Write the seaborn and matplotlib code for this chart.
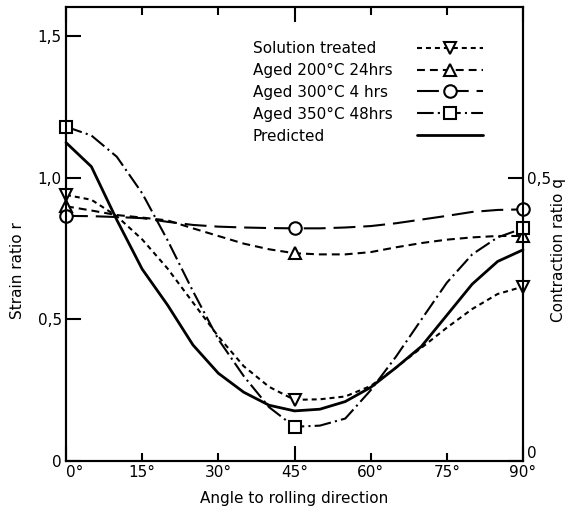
import pandas as pd
import seaborn as sns
import matplotlib.pyplot as plt

# values (strain ratio r), every 5 degrees
angles = [0, 5, 10, 15, 20, 25, 30, 35, 40, 45, 50, 55, 60, 65, 70, 75, 80, 85, 90]
solution_treated = [0.94, 0.923, 0.865, 0.783, 0.68, 0.56, 0.44, 0.335, 0.262, 0.216,
                    0.218, 0.228, 0.265, 0.33, 0.40, 0.471, 0.537, 0.59, 0.616]
aged_200 = [0.90, 0.885, 0.869, 0.86, 0.85, 0.822, 0.795, 0.768, 0.748, 0.734,
            0.73, 0.73, 0.738, 0.755, 0.77, 0.782, 0.79, 0.795, 0.795]
aged_300 = [0.866, 0.865, 0.862, 0.858, 0.845, 0.834, 0.828, 0.825, 0.823, 0.822,
            0.822, 0.825, 0.83, 0.84, 0.853, 0.866, 0.88, 0.887, 0.889]
aged_350 = [1.181, 1.15, 1.075, 0.946, 0.78, 0.60, 0.43, 0.30, 0.19, 0.121,
            0.125, 0.15, 0.25, 0.369, 0.50, 0.63, 0.73, 0.79, 0.822]
predicted = [1.125, 1.04, 0.852, 0.678, 0.551, 0.41, 0.31, 0.243, 0.197, 0.177,
             0.183, 0.21, 0.26, 0.33, 0.405, 0.515, 0.625, 0.705, 0.746]
measured_at = [0, 45, 90]

labels = ["Solution treated", "Aged 200°C 24hrs", "Aged 300°C 4 hrs",
          "Aged 350°C 48hrs", "Predicted"]
x_ticks = [0, 45, 90]
x_minor = [15, 30, 60, 75]
y_ticks = [0, 0.5, 1.0, 1.5]
y_labels = ["0", "0,5", "1,0", "1,5"]
q_ticks = [0, 0.5]
q_labels = ["0", "0,5"]

sns.set_theme(style="ticks", rc={"axes.edgecolor": "black", "text.color": "black",
                                 "xtick.color": "black", "ytick.color": "black",
                                 "axes.labelcolor": "black", "axes.linewidth": 1.5})
plt.rcParams['font.family'] = ['Liberation Sans Narrow', 'DejaVu Sans']
plt.rcParams['font.size'] = 11

fig = plt.figure(figsize=(5.66, 5.11), dpi=100)
ax = fig.add_axes([66 / 566, 50 / 511, 457 / 566, 454 / 511])

styles = [
    (solution_treated, (0, (2.4, 1.9)), "v", 1.5),
    (aged_200, (0, (3.8, 2.4)), "^", 1.5),
    (aged_300, (0, (10.5, 3.8)), "o", 1.5),
    (aged_350, (0, (8, 2, 1, 2)), "s", 1.5),
    (predicted, "-", None, 2.0),
]
marks = [angles.index(a) for a in measured_at]
for (vals, ls, mk, lw), lab in zip(styles, labels):
    df = pd.DataFrame({"angle": angles, "r": vals})
    sns.lineplot(data=df, x="angle", y="r", ax=ax, color="black", linestyle=ls,
                 linewidth=lw, marker=mk, markevery=marks, markersize=9,
                 markerfacecolor="white", markeredgecolor="black",
                 markeredgewidth=1.5, label=lab, clip_on=False, zorder=3)

ax.set_xlim(0, 90)
ax.set_ylim(0, 1.604)
ax.set_xticks(x_ticks, [f"{a}°" for a in x_ticks])
ax.set_xticks(x_minor, [f"{a}°" for a in x_minor], minor=True)
ax.get_xticklabels()[0].set_ha("left")
ax.set_yticks(y_ticks, y_labels)
ax.tick_params(axis="x", which="both", direction="in", top=True, pad=3, labelsize=11)
ax.tick_params(axis="x", which="major", length=11, width=1.5)
ax.tick_params(axis="x", which="minor", length=6, width=1.5)
ax.tick_params(axis="y", direction="in", length=11, width=1.5, pad=3, labelsize=11)
ax.set_xlabel("Angle to rolling direction", fontsize=11, labelpad=8)
ax.set_ylabel("Strain ratio r", fontsize=11)
ax.yaxis.set_label_coords(-0.09, 0.42)

ax2 = ax.twinx()
ax2.set_ylim(0, 0.802)
ax2.set_yticks(q_ticks, q_labels)
ax2.tick_params(axis="y", direction="in", length=11, width=1.5, pad=3, labelsize=11)
ax2.get_yticklabels()[0].set_va("bottom")
ax2.set_ylabel("Contraction ratio q", fontsize=11)
ax2.yaxis.set_label_coords(1.062, 0.465)

handles, _ = ax.get_legend_handles_labels()
leg1 = ax.legend(handles, labels, loc="upper left", bbox_to_anchor=(0.409, 0.925),
                 frameon=False, handlelength=0, handletextpad=0, borderpad=0,
                 borderaxespad=0, labelspacing=0.45, fontsize=11)
for h in leg1.legend_handles:
    h.set_visible(False)
ax.add_artist(leg1)
ax.legend(handles, [""] * len(handles), loc="upper right", bbox_to_anchor=(0.912, 0.925),
          frameon=False, handlelength=4.3, handletextpad=0, borderpad=0,
          borderaxespad=0, labelspacing=0.45, fontsize=11)

fig.savefig("out.png", dpi=100)
